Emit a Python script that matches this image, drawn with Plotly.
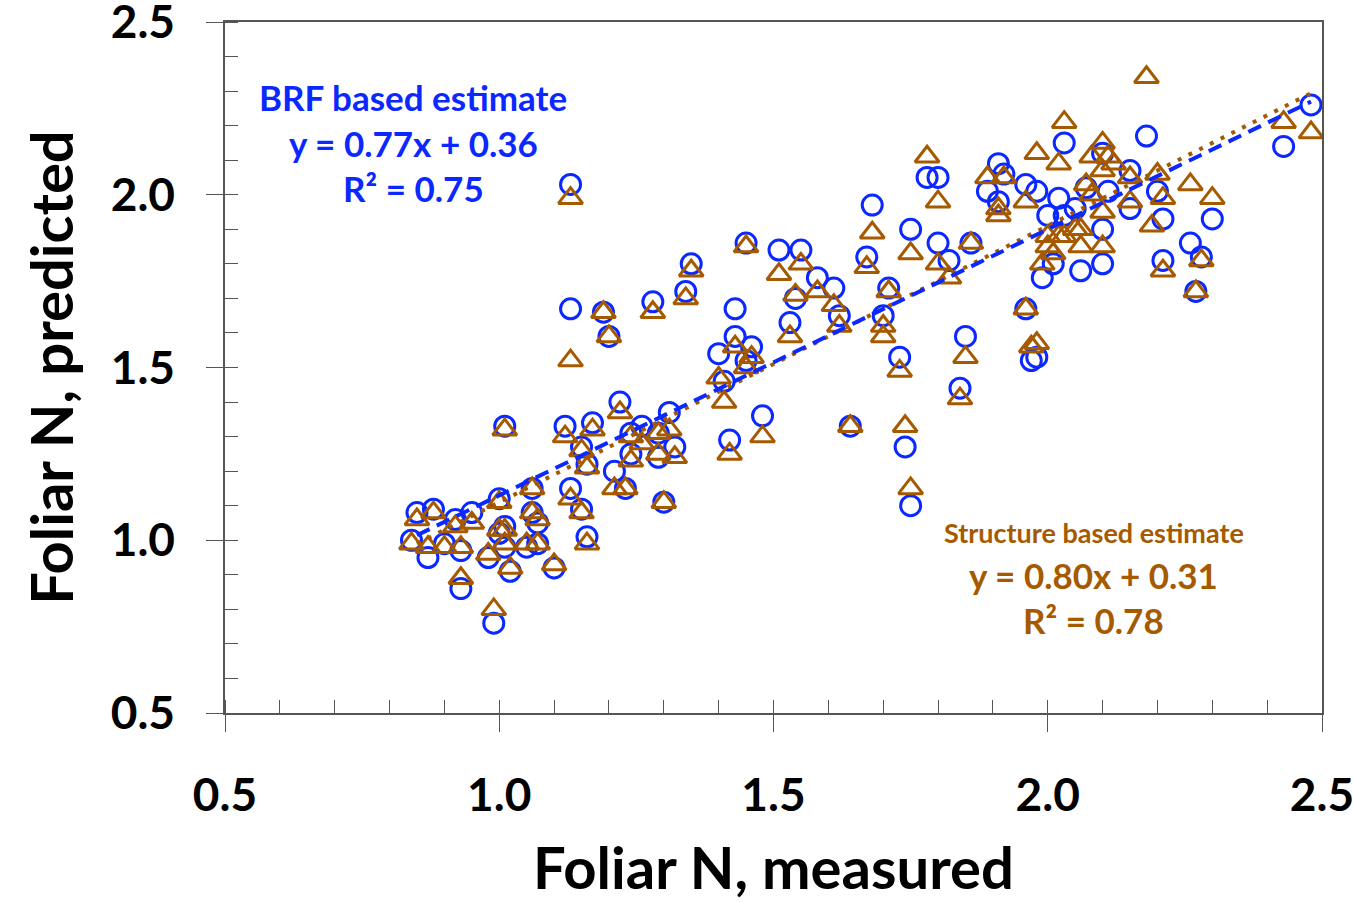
import numpy as np
import plotly.graph_objects as go

# Measured foliar N (shared by both estimates)
measured = [0.84, 0.85, 0.88, 0.87, 0.92, 0.93, 0.95, 0.93, 1.00, 0.99,
            0.98, 1.00, 1.01, 1.02, 1.01, 1.06, 1.06, 1.07, 1.07, 1.05,
            1.10, 1.13, 1.15, 1.16, 1.01, 0.90, 1.13, 1.13, 1.19, 1.20,
            1.28, 1.35, 1.34, 1.12, 1.17, 1.15, 1.16, 1.21, 1.23, 1.24,
            1.26, 1.24, 1.31, 1.29, 1.29, 1.32, 1.30, 1.22, 1.40, 1.41,
            1.42, 1.45, 1.43, 1.43, 1.46, 1.45, 1.48, 1.51, 1.55, 1.58,
            1.54, 1.61, 1.62, 1.53, 1.64, 1.67, 1.68, 1.75, 1.71, 1.70,
            1.73, 1.74, 1.75, 1.80, 1.82, 1.86, 1.85, 1.84, 1.78, 1.80,
            1.89, 1.91, 1.92, 1.91, 1.96, 1.97, 1.96, 1.98, 2.02, 2.03,
            2.00, 2.03, 2.05, 1.99, 2.01, 2.06, 1.98, 2.07, 2.10, 2.11,
            2.15, 2.15, 2.10, 2.20, 2.21, 2.26, 2.10, 2.21, 2.18, 2.12,
            2.10, 2.08, 2.06, 2.02, 2.00, 2.19, 2.28, 2.08, 2.27, 2.30,
            2.43, 2.48, 1.70]

# BRF based prediction (blue circles)
brf_pred = [1.00, 1.08, 1.09, 0.95, 1.06, 0.97, 1.08, 0.86, 1.12, 0.76,
            0.95, 1.02, 1.04, 0.91, 0.98, 1.15, 1.08, 1.05, 0.99, 0.98,
            0.92, 1.15, 1.09, 1.01, 1.33, 0.99, 2.03, 1.67, 1.66, 1.59,
            1.69, 1.80, 1.72, 1.33, 1.34, 1.27, 1.22, 1.20, 1.15, 1.31,
            1.33, 1.25, 1.37, 1.31, 1.24, 1.27, 1.11, 1.40, 1.54, 1.46,
            1.29, 1.86, 1.67, 1.59, 1.56, 1.52, 1.36, 1.84, 1.84, 1.76,
            1.70, 1.73, 1.65, 1.63, 1.33, 1.82, 1.97, 1.90, 1.73, 1.65,
            1.53, 1.27, 1.10, 1.86, 1.81, 1.86, 1.59, 1.44, 2.05, 2.05,
            2.01, 2.09, 2.06, 1.98, 1.67, 1.52, 2.03, 2.01, 1.99, 2.15,
            1.94, 1.94, 1.96, 1.76, 1.80, 1.78, 1.53, 2.02, 2.12, 2.01,
            2.07, 1.96, 1.90, 2.01, 1.93, 1.86, 1.80, 1.81, 2.17, None,
            None, None, None, None, None, None, 1.82, None, 1.72, 1.93,
            2.14, 2.26, None]

# Structure based prediction (brown triangles)
struct_pred = [0.99, 1.06, 1.08, 0.98, 1.04, 0.98, 1.05, 0.89, 1.11, 0.80,
               0.96, 1.03, 1.03, 0.92, 0.99, 1.15, 1.08, 1.06, 0.99, 0.99,
               0.93, 1.12, 1.08, 0.99, 1.32, 0.98, 1.99, 1.52, 1.66, 1.59,
               1.66, 1.78, 1.70, 1.30, 1.32, 1.26, 1.21, 1.15, 1.15, 1.30,
               1.28, 1.23, 1.32, 1.31, 1.25, 1.24, 1.11, 1.37, 1.47, 1.40,
               1.25, 1.85, None, 1.56, 1.53, 1.50, 1.30, 1.77, 1.80, 1.72,
               1.71, 1.68, 1.62, 1.59, 1.33, 1.79, 1.89, 1.83, 1.72, 1.62,
               1.49, 1.33, 1.15, 1.80, 1.76, 1.86, 1.53, 1.41, 2.11, 1.98,
               2.05, 1.96, 2.05, 1.94, 1.67, 1.56, 1.98, 2.12, 2.09, 2.21,
               1.88, 1.88, 1.90, 1.80, 1.83, 1.85, 1.57, 2.03, 2.15, 2.11,
               2.05, 1.98, 1.95, 2.06, 1.99, 2.03, 1.85, 1.78, 2.34, 2.09,
               2.07, 2.00, 1.90, 1.88, 1.85, 1.91, 1.81, 2.11, 1.72, 1.99,
               2.21, 2.18, 1.59]

# Fitted regression lines (from the chart's equations)
brf_fit = (0.77, 0.36)
struct_fit = (0.80, 0.31)
fit_range = [0.85, 2.48]

x_ticks = [0.5, 1.0, 1.5, 2.0, 2.5]
y_ticks = [0.5, 1.0, 1.5, 2.0, 2.5]

BLUE = "#0A28FF"
BROWN = "#A65A00"
AXIS = "#555555"
FONT = "Lato"

fx = np.array(fit_range)

fig = go.Figure()
fig.add_trace(go.Scatter(
    x=measured, y=brf_pred, mode="markers", name="BRF based estimate",
    marker=dict(symbol="circle-open", size=20, color=BLUE, line=dict(width=3, color=BLUE)),
))
fig.add_trace(go.Scatter(
    x=measured, y=struct_pred, mode="markers", name="Structure based estimate",
    marker=dict(symbol="triangle-up-open", size=21, color=BROWN, line=dict(width=3, color=BROWN)),
))
fig.add_trace(go.Scatter(
    x=fx, y=struct_fit[0] * fx + struct_fit[1], mode="lines",
    line=dict(color=BROWN, width=4, dash="4px,8px"), hoverinfo="skip",
))
fig.add_trace(go.Scatter(
    x=fx, y=brf_fit[0] * fx + brf_fit[1], mode="lines",
    line=dict(color=BLUE, width=4, dash="14px,8px"), hoverinfo="skip",
))

tickfont = dict(family=FONT, size=46, color="black", weight="bold")
title_font = dict(family=FONT, size=58, color="black", weight="bold")
axis_common = dict(
    showline=True, linecolor=AXIS, linewidth=1.5, mirror=True,
    showgrid=False, zeroline=False, automargin=False,
    ticks="outside", ticklen=17, tickwidth=1.2, tickcolor=AXIS,
    tickfont=tickfont, tickformat=".1f", ticklabeloverflow="allow",
    minor=dict(ticks="inside", ticklen=13, tickwidth=1.2, tickcolor=AXIS, dtick=0.1, showgrid=False),
)
fig.update_xaxes(range=[0.5, 2.5], tickvals=x_ticks, ticklabelstandoff=24,
                 title=dict(text="Foliar N, measured", font=title_font, standoff=28),
                 **axis_common)
fig.update_yaxes(range=[0.5, 2.5], tickvals=y_ticks, ticklabelstandoff=22,
                 title=dict(text="Foliar N, predicted", font=title_font, standoff=18),
                 **axis_common)

ann_font_b = dict(family=FONT, size=35, color=BLUE, weight="bold")
ann_font_s = dict(family=FONT, size=35, color=BROWN, weight="bold")
annotations = [
    dict(x=0.843, y=2.283, text="BRF based estimate", font=ann_font_b),
    dict(x=0.843, y=2.150, text=f"y = {brf_fit[0]:.2f}x + {brf_fit[1]:.2f}", font=ann_font_b),
    dict(x=0.843, y=2.020, text="R² = 0.75", font=ann_font_b),
    dict(x=2.084, y=1.021, text="Structure based estimate", font=dict(ann_font_s, size=27)),
    dict(x=2.084, y=0.899, text=f"y = {struct_fit[0]:.2f}x + {struct_fit[1]:.2f}", font=ann_font_s),
    dict(x=2.084, y=0.769, text="R² = 0.78", font=ann_font_s),
]
for a in annotations:
    fig.add_annotation(xref="x", yref="y", showarrow=False, xanchor="center", yanchor="middle", **a)

fig.update_layout(
    width=1353, height=902,
    margin=dict(l=225, r=31, t=22, b=189),
    paper_bgcolor="white", plot_bgcolor="white",
    showlegend=False,
)
fig.write_html("out.html")
